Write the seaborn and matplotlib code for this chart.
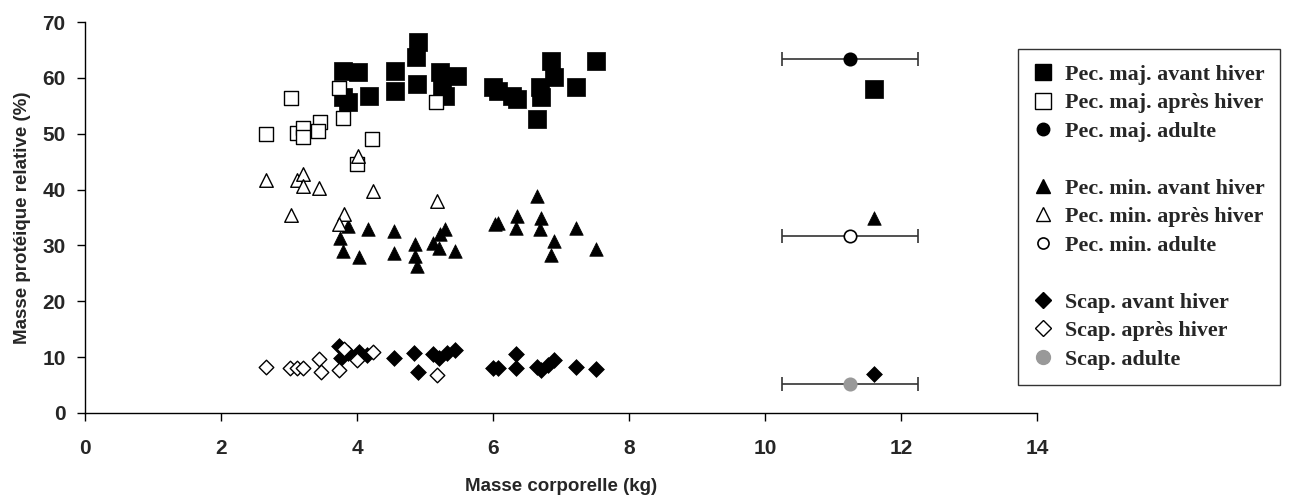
import matplotlib
matplotlib.use('Agg')
import matplotlib.pyplot as plt
import seaborn as sns
import numpy as np
from matplotlib.lines import Line2D

# Pec. maj. avant hiver (filled squares)
pmaj_av_x = [3.80, 4.02, 3.80, 3.87, 4.17, 4.56, 4.56, 4.89, 4.87, 4.88, 5.22, 5.25, 5.29, 5.47,
             6.00, 6.07, 6.28, 6.35, 6.64, 6.69, 6.70, 6.86, 6.89, 7.22, 7.51, 11.60]
pmaj_av_y = [61.3, 61.1, 56.5, 55.7, 56.8, 61.3, 57.7, 66.4, 63.7, 58.9, 61.0, 58.6, 56.8, 60.4,
             58.4, 57.7, 56.8, 56.2, 52.6, 58.3, 56.5, 63.1, 60.1, 58.3, 63.1, 58.0]
# Pec. maj. après hiver (open squares)
pmaj_ap_x = [2.66, 3.03, 3.12, 3.21, 3.21, 3.46, 3.42, 3.74, 3.80, 4.22, 5.16, 4.00]
pmaj_ap_y = [49.9, 56.4, 50.2, 51.1, 49.4, 52.1, 50.5, 58.1, 52.9, 49.1, 55.6, 44.5]

# Pec. min. avant hiver (filled triangles)
pmin_av_x = [3.87, 3.75, 3.79, 4.16, 4.03, 4.55, 4.55, 4.85, 4.85, 4.88, 5.12, 5.21, 5.22, 5.29,
             5.44, 6.03, 6.07, 6.35, 6.34, 6.64, 6.70, 6.69, 6.89, 6.86, 7.22, 7.51, 11.60]
pmin_av_y = [33.5, 31.4, 29.0, 33.0, 28.0, 32.6, 28.7, 30.3, 28.1, 26.3, 30.5, 29.6, 32.0, 32.9,
             29.0, 33.8, 34.1, 35.2, 33.2, 38.8, 34.9, 32.9, 30.8, 28.2, 33.2, 29.4, 35.0]
# Pec. min. après hiver (open triangles)
pmin_ap_x = [2.66, 3.03, 3.12, 3.21, 3.21, 3.44, 3.81, 3.74, 4.01, 4.23, 5.17]
pmin_ap_y = [41.8, 35.5, 41.8, 42.7, 40.6, 40.2, 35.7, 33.8, 46.0, 39.7, 37.9]

# Scap. avant hiver (filled diamonds)
scap_av_x = [3.73, 3.77, 3.87, 4.03, 4.14, 4.54, 4.84, 4.89, 5.12, 5.21, 5.32, 5.44,
             6.00, 6.07, 6.34, 6.34, 6.64, 6.70, 6.81, 6.90, 7.22, 7.51, 11.60]
scap_av_y = [12.0, 9.8, 10.7, 11.0, 10.4, 9.8, 10.8, 7.4, 10.6, 9.8, 10.7, 11.2,
             8.0, 8.0, 10.5, 8.0, 8.3, 7.7, 8.6, 9.4, 8.3, 7.8, 7.0]
# Scap. après hiver (open diamonds)
scap_ap_x = [2.66, 3.02, 3.12, 3.21, 3.44, 3.47, 3.74, 3.81, 4.00, 4.23, 5.17]
scap_ap_y = [8.2, 8.1, 8.1, 8.1, 9.6, 7.4, 7.7, 11.4, 9.4, 11.0, 6.8]

# adults: mean with horizontal error bar
adult_x = 11.25
adult_xerr = 1.0
adult_y = [63.3, 31.7, 5.2]
adult_face = ['black', 'white', '#999999']
adult_edge = ['black', 'black', '#999999']

x_ticks = [0, 2, 4, 6, 8, 10, 12, 14]
y_ticks = [0, 10, 20, 30, 40, 50, 60, 70]

legend_labels = ['Pec. maj. avant hiver', 'Pec. maj. après hiver', 'Pec. maj. adulte', '',
                 'Pec. min. avant hiver', 'Pec. min. après hiver', 'Pec. min. adulte', '',
                 'Scap. avant hiver', 'Scap. après hiver', 'Scap. adulte']

sns.set_style('white')
plt.rcParams['font.family'] = ['Liberation Sans', 'DejaVu Sans']
plt.rcParams['xtick.major.pad'] = 13
plt.rcParams['ytick.major.pad'] = 8

fig = plt.figure(figsize=(12.92, 5.0), dpi=100)
ax = fig.add_axes([0.0658, 0.174, 0.7368, 0.782])

sns.scatterplot(x=pmaj_av_x, y=pmaj_av_y, marker='s', s=170, color='black', edgecolor='black', linewidth=0.5, ax=ax)
sns.scatterplot(x=pmaj_ap_x, y=pmaj_ap_y, marker='s', s=105, facecolor='white', edgecolor='black', linewidth=1.0, ax=ax)
sns.scatterplot(x=pmin_av_x, y=pmin_av_y, marker='^', s=95, color='black', edgecolor='black', linewidth=0.5, ax=ax)
sns.scatterplot(x=pmin_ap_x, y=pmin_ap_y, marker='^', s=95, facecolor='white', edgecolor='black', linewidth=1.0, ax=ax)
sns.scatterplot(x=scap_av_x, y=scap_av_y, marker='D', s=65, color='black', edgecolor='black', linewidth=0.5, ax=ax)
sns.scatterplot(x=scap_ap_x, y=scap_ap_y, marker='D', s=55, facecolor='white', edgecolor='black', linewidth=1.0, ax=ax)

for yv, fc, ec in zip(adult_y, adult_face, adult_edge):
    ax.errorbar(adult_x, yv, xerr=adult_xerr, fmt='none', ecolor='#333333', elinewidth=1.2,
                capsize=5, capthick=1.2, zorder=2)
    ax.scatter([adult_x], [yv], marker='o', s=80, facecolor=fc, edgecolor=ec, linewidth=1.2, zorder=3)

ax.set_xlim(0, 14)
ax.set_ylim(0, 70)
sns.despine(ax=ax)
for sp in ['left', 'bottom']:
    ax.spines[sp].set_color('black')
    ax.spines[sp].set_linewidth(1.0)
ax.tick_params(axis='both', direction='out', length=6, width=1, color='black',
               bottom=True, left=True)
ax.set_xticks(x_ticks, labels=[str(v) for v in x_ticks], fontsize=15, fontweight='bold')
ax.set_yticks(y_ticks, labels=[str(v) for v in y_ticks], fontsize=15, fontweight='bold')
ax.set_xlabel('Masse corporelle (kg)', fontsize=13.5, fontweight='bold', labelpad=14)
ax.set_ylabel('Masse protéique relative (%)', fontsize=13.5, fontweight='bold', labelpad=8)

handles = [
    Line2D([], [], ls='none', marker='s', ms=11, mfc='black', mec='black'),
    Line2D([], [], ls='none', marker='s', ms=11, mfc='white', mec='black'),
    Line2D([], [], ls='none', marker='o', ms=9, mfc='black', mec='black'),
    Line2D([], [], ls='none'),
    Line2D([], [], ls='none', marker='^', ms=10, mfc='black', mec='black'),
    Line2D([], [], ls='none', marker='^', ms=10, mfc='white', mec='black'),
    Line2D([], [], ls='none', marker='o', ms=8, mfc='white', mec='black', mew=1.2),
    Line2D([], [], ls='none'),
    Line2D([], [], ls='none', marker='D', ms=8, mfc='black', mec='black'),
    Line2D([], [], ls='none', marker='D', ms=8, mfc='white', mec='black'),
    Line2D([], [], ls='none', marker='o', ms=10, mfc='#999999', mec='#999999'),
]
leg = fig.legend(handles, legend_labels, loc='upper left', bbox_to_anchor=(0.788, 0.902),
                 borderaxespad=0, frameon=True, fancybox=False, edgecolor='black',
                 handlelength=0.9, handletextpad=0.55, labelspacing=0.37, borderpad=0.7,
                 prop={'family': 'Liberation Serif', 'weight': 'bold', 'size': 15.8})
leg.get_frame().set_linewidth(1.0)

fig.savefig('out.png', dpi=100)
